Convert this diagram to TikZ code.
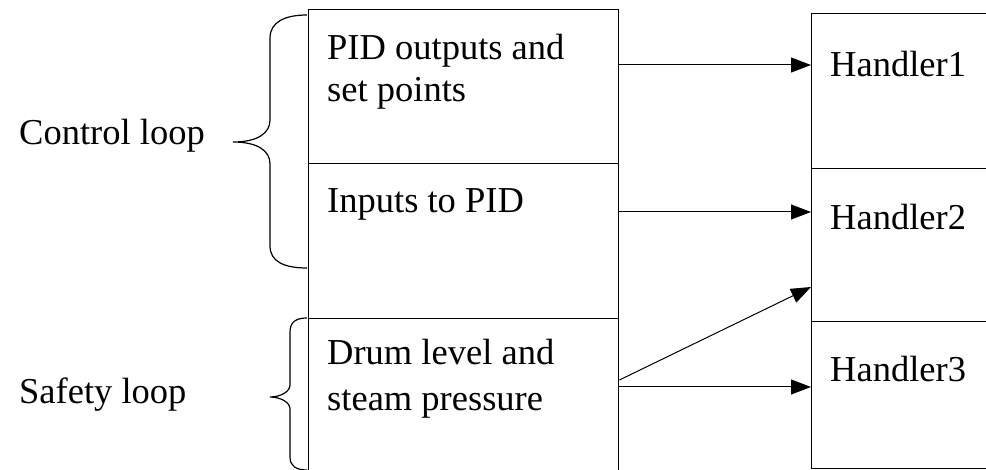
\documentclass[tikz,border=0pt]{standalone}
\usepackage{fontspec}
\setmainfont{Liberation Serif}
\usetikzlibrary{arrows.meta}
\begin{document}
\begin{tikzpicture}[x=1pt,y=-1pt,
  box/.style={draw,line width=1.4pt,rectangle,inner sep=0pt,anchor=north west},
  lbl/.style={anchor=base west,inner sep=0pt,font=\fontsize{36.5}{42}\selectfont},
  arr/.style={line width=1pt,-{Triangle[length=20pt,width=15pt]}},
  brace/.style={line width=1.2pt}]
\useasboundingbox (0,0) rectangle (986,470);
\clip (0,0) rectangle (986,470);
% left column
\node[box,minimum width=310pt,minimum height=154pt] (b1) at (308,9) {};
\node[box,minimum width=310pt,minimum height=155pt] (b2) at (308,163) {};
\node[box,minimum width=310pt,minimum height=170pt] (b3) at (308,318) {};
% right column
\node[box,minimum width=200pt,minimum height=155pt] (h1) at (811,13) {};
\node[box,minimum width=200pt,minimum height=153pt] (h2) at (811,168) {};
\node[box,minimum width=200pt,minimum height=147pt] (h3) at (811,321) {};
% texts
\node[lbl] (t1a) at (327,60) {PID outputs and};
\node[lbl] (t1b) at (327,102) {set points};
\node[lbl] (t2) at (327,213) {Inputs to PID};
\node[lbl] (t3a) at (327,365) {Drum level and};
\node[lbl] (t3b) at (327,410) {steam pressure};
\node[lbl] (th1) at (830,77) {Handler1};
\node[lbl] (th2) at (830,230) {Handler2};
\node[lbl] (th3) at (830,382) {Handler3};
\node[lbl] (cl) at (19,145) {Control loop};
\node[lbl] (sl) at (19,403) {Safety loop};
% arrows
\draw[arr] ([yshift=-56pt]b1.north east) -- ([yshift=-52pt]h1.north west);
\draw[arr] ([yshift=-49pt]b2.north east) -- ([yshift=-44pt]h2.north west);
\draw[arr] ([yshift=-62pt]b3.north east) -- ([yshift=-119pt]h2.north west);
\draw[arr] ([yshift=-69pt]b3.north east) -- ([yshift=-66pt]h3.north west);
% braces
\draw[brace] (307,15) .. controls (285,15) and (270,22) .. (270,38) -- (270,120)
  .. controls (270,133) and (258,142) .. (233,142)
  .. controls (258,142) and (270,151) .. (270,164) -- (270,246)
  .. controls (270,262) and (285,268) .. (307,268);
\draw[brace] (307,318) .. controls (296,318) and (290,322) .. (290,332) -- (290,385)
  .. controls (290,392) and (280,397) .. (270,397)
  .. controls (280,397) and (290,402) .. (290,409) -- (290,457)
  .. controls (290,466) and (296,470) .. (307,470);
\end{tikzpicture}
\end{document}
